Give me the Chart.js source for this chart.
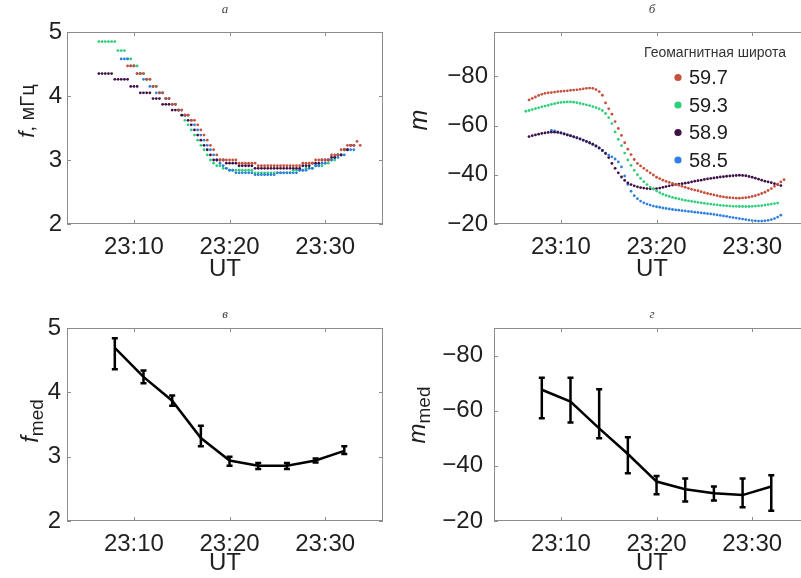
<!DOCTYPE html>
<html>
<head>
<meta charset="utf-8">
<script src="https://cdn.jsdelivr.net/npm/chart.js@4/dist/chart.umd.min.js"></script>
<style>
  html, body { margin: 0; padding: 0; background: #fff; overflow: hidden; }
  body { width: 801px; height: 578px; position: relative; }
  canvas { position: absolute; }
</style>
</head>
<body>
<canvas id="panelA" width="400" height="289" style="left:0;top:0;width:400px;height:289px"></canvas>
<canvas id="panelB" width="420" height="289" style="left:400px;top:0;width:420px;height:289px"></canvas>
<canvas id="panelC" width="400" height="289" style="left:0;top:289px;width:400px;height:289px"></canvas>
<canvas id="panelD" width="420" height="289" style="left:400px;top:289px;width:420px;height:289px"></canvas>
<script>
// время отсчётов, секунды после 23:00
const stepTime = [
  380, 400, 420, 440, 460, 480, 500, 520, 540, 560,
  580, 600, 620, 640, 660, 680, 700, 720, 740, 760,
  780, 800, 820, 840, 860, 880, 900, 920, 940, 960,
  980, 1000, 1020, 1040, 1060, 1080, 1100, 1120, 1140, 1160,
  1180, 1200, 1220, 1240, 1260, 1280, 1300, 1320, 1340, 1360,
  1380, 1400, 1420, 1440, 1460, 1480, 1500, 1520, 1540, 1560,
  1580, 1600, 1620, 1640, 1660, 1680, 1700, 1720, 1740, 1760,
  1780, 1800, 1820, 1840, 1860, 1880, 1900, 1920, 1940, 1960,
  1980, 2000, 2020
];

const latLabels = ['59.7', '59.3', '58.9', '58.5'];
const latColors = ['#c5503c', '#2fcf7a', '#3f0f48', '#2f7fe0'];

// а: частота f, мГц
const fRed = [
  null, null, null, null, null, null, null, null, null, 4.47,
  4.47, 4.47, 4.35, 4.35, 4.35, 4.26, 4.26, 4.15, 4.15, 4.05,
  4.05, 3.96, 3.96, 3.87, 3.87, 3.78, 3.78, 3.70, 3.70, 3.62,
  3.62, 3.55, 3.47, 3.39, 3.31, 3.23, 3.16, 3.08, 3.00, 3.00,
  3.00, 3.00, 3.00, 3.00, 2.95, 2.95, 2.95, 2.95, 2.95, 2.95,
  2.91, 2.91, 2.91, 2.91, 2.91, 2.91, 2.91, 2.91, 2.91, 2.91,
  2.91, 2.91, 2.91, 2.91, 2.95, 2.95, 2.95, 2.95, 3.00, 3.00,
  3.00, 3.00, 3.00, 3.08, 3.08, 3.08, 3.16, 3.16, 3.23, 3.23,
  3.23, 3.29, 3.23
];
const fGreen = [
  4.85, 4.85, 4.85, 4.85, 4.85, 4.85, 4.71, 4.71, 4.71, 4.58,
  4.58, 4.47, 4.47, 4.35, 4.35, 4.26, 4.26, 4.15, 4.15, 4.05,
  4.05, 3.96, 3.96, 3.87, 3.87, 3.78, 3.70, 3.62, 3.55, 3.47,
  3.39, 3.31, 3.23, 3.16, 3.08, 3.00, 2.95, 2.91, 2.91, 2.87,
  2.87, 2.84, 2.84, 2.84, 2.84, 2.84, 2.84, 2.84, 2.84, 2.80,
  2.80, 2.80, 2.80, 2.80, 2.80, 2.80, 2.80, 2.80, 2.80, 2.80,
  2.80, 2.84, 2.84, 2.84, 2.84, 2.87, 2.87, 2.87, 2.91, 2.91,
  2.91, 2.95, 2.95, 3.00, 3.00, 3.08, 3.08, 3.16, null, null,
  null, null, null
];
const fPurple = [
  4.35, 4.35, 4.35, 4.35, 4.35, 4.26, 4.26, 4.26, 4.26, 4.26,
  4.15, 4.15, 4.15, 4.05, 4.05, 4.05, 4.05, 3.96, 3.96, 3.96,
  3.87, 3.87, 3.87, 3.78, 3.78, 3.78, 3.70, 3.70, 3.62, 3.55,
  3.47, 3.39, 3.31, 3.23, 3.16, 3.08, 3.00, 3.00, 3.00, 3.00,
  2.95, 2.95, 2.95, 2.95, 2.91, 2.91, 2.91, 2.91, 2.91, 2.87,
  2.87, 2.87, 2.87, 2.87, 2.87, 2.87, 2.87, 2.87, 2.87, 2.87,
  2.87, 2.87, 2.87, 2.87, 2.91, 2.91, 2.91, 2.95, 2.95, 2.95,
  3.00, 3.00, 3.00, 3.04, 3.04, 3.08, 3.08, 3.16, 3.16, 3.23,
  3.23, null, null
];
const fBlue = [
  null, null, null, null, null, null, null, 4.58, 4.58, 4.58,
  4.47, 4.47, 4.35, 4.35, 4.26, 4.26, 4.15, 4.15, 4.05, 4.05,
  4.05, 3.96, 3.96, 3.87, 3.87, 3.78, 3.78, 3.70, 3.70, 3.62,
  3.55, 3.47, 3.39, 3.31, 3.23, 3.16, 3.08, 3.00, 2.95, 2.91,
  2.87, 2.84, 2.84, 2.80, 2.80, 2.80, 2.80, 2.80, 2.80, 2.77,
  2.77, 2.77, 2.77, 2.77, 2.77, 2.77, 2.80, 2.80, 2.80, 2.80,
  2.80, 2.80, 2.80, 2.84, 2.84, 2.84, 2.87, 2.87, 2.91, 2.91,
  2.95, 2.95, 3.00, 3.00, 3.04, 3.04, 3.08, 3.08, 3.16, 3.16,
  3.16, null, null
];

// б: m
const mRed = [
  null, -70.4, -71.0, -71.6, -72.2, -72.7, -73.1, -73.3, -73.4, -73.6,
  -73.8, -73.9, -74.0, -74.1, -74.3, -74.4, -74.5, -74.7, -74.9, -75.1,
  -75.2, -75.1, -74.6, -73.8, -72.3, -69.2, -66.8, -64.6, -61.6, -58.8,
  -56.0, -53.0, -50.4, -48.2, -46.2, -44.6, -43.6, -42.6, -41.7, -40.8,
  -39.9, -39.0, -38.4, -37.8, -37.3, -36.9, -36.5, -36.1, -35.7, -35.3,
  -34.9, -34.5, -34.1, -33.8, -33.5, -33.1, -32.7, -32.4, -32.1, -31.8,
  -31.5, -31.2, -31.0, -30.8, -30.7, -30.6, -30.5, -30.5, -30.6, -30.7,
  -30.9, -31.2, -31.5, -31.9, -32.4, -32.9, -33.6, -34.4, -35.3, -36.2,
  -37.1, -38.0, null
];
const mGreen = [
  -65.8, -66.1, -66.5, -66.9, -67.2, -67.6, -67.9, -68.2, -68.6, -68.9,
  -69.2, -69.4, -69.5, -69.6, -69.6, -69.5, -69.3, -69.0, -68.7, -68.4,
  -68.1, -67.7, -67.3, -66.8, -66.1, -64.9, -63.2, -60.8, -57.4, -54.4,
  -51.8, -48.8, -46.0, -43.8, -41.8, -40.0, -38.5, -37.2, -36.0, -35.0,
  -34.2, -33.4, -32.7, -32.1, -31.6, -31.2, -30.8, -30.5, -30.2, -29.9,
  -29.6, -29.4, -29.2, -29.0, -28.8, -28.6, -28.4, -28.2, -28.1, -27.9,
  -27.8, -27.6, -27.5, -27.4, -27.3, -27.2, -27.2, -27.1, -27.1, -27.1,
  -27.1, -27.2, -27.3, -27.4, -27.5, -27.7, -27.9, -28.1, -28.3, -28.5,
  null, null, null
];
const mPurple = [
  null, -55.5, -55.9, -56.2, -56.5, -56.8, -57.0, -57.2, -57.3, -57.3,
  -57.2, -57.0, -56.6, -56.2, -55.9, -55.5, -55.1, -54.6, -54.1, -53.6,
  -53.0, -52.4, -51.7, -50.9, -49.9, -48.6, -47.0, -44.6, -42.6, -40.8,
  -39.1, -37.7, -36.7, -36.0, -35.5, -35.1, -34.8, -34.6, -34.4, -34.3,
  -34.3, -34.4, -34.6, -34.9, -35.2, -35.5, -35.8, -36.0, -36.2, -36.4,
  -36.6, -36.8, -37.1, -37.4, -37.6, -37.8, -38.1, -38.3, -38.5, -38.7,
  -38.9, -39.1, -39.2, -39.4, -39.5, -39.6, -39.7, -39.8, -39.7, -39.6,
  -39.3, -39.0, -38.6, -38.2, -37.8, -37.4, -37.1, -36.8, -36.4, -36.0,
  -35.6, null, null
];
const mBlue = [
  null, null, null, null, null, null, null, null, -58.0, -57.8,
  -57.4, -57.0, -56.6, -56.2, -55.8, -55.3, -54.9, -54.5, -54.0, -53.4,
  -52.9, -52.4, -51.6, -50.8, -49.8, -48.8, -48.0, -47.3, -46.4, -45.2,
  -43.2, -39.5, -36.0, -33.3, -31.5, -30.3, -29.3, -28.6, -28.1, -27.7,
  -27.3, -27.0, -26.8, -26.5, -26.3, -26.1, -25.9, -25.7, -25.6, -25.4,
  -25.3, -25.1, -25.0, -24.8, -24.7, -24.5, -24.4, -24.2, -24.1, -23.9,
  -23.7, -23.5, -23.3, -23.1, -22.8, -22.6, -22.4, -22.2, -22.0, -21.8,
  -21.6, -21.4, -21.3, -21.2, -21.2, -21.3, -21.5, -21.8, -22.2, -22.8,
  -23.6, null, null
];

// в, г: медианы с разбросом
const medTime = [480, 660, 840, 1020, 1200, 1380, 1560, 1740, 1920];
const fMed  = [4.69, 4.24, 3.87, 3.29, 2.94, 2.86, 2.86, 2.94, 3.09];
const fLow  = [4.36, 4.14, 3.79, 3.16, 2.86, 2.81, 2.81, 2.91, 3.04];
const fHigh = [4.84, 4.34, 3.95, 3.48, 3.00, 2.90, 2.90, 2.97, 3.16];
const mMed  = [-67.6, -63.3, -53.6, -44.3, -34.3, -31.5, -30.1, -29.4, -32.5];
const mLow  = [-57.3, -55.7, -50.0, -37.3, -29.7, -27.1, -27.4, -25.0, -23.7];
const mHigh = [-72.0, -72.0, -67.8, -50.4, -36.3, -35.4, -32.5, -35.4, -36.6];

const timeTicks = [600, 1200, 1800];
const fTicks = [2, 3, 4, 5];
const mTicks = [-80, -60, -40, -20];

const FONT = '"Liberation Sans", Arial, sans-serif';
Chart.defaults.font.family = FONT;
Chart.defaults.color = '#1f1f1f';

function fixTicks(values) {
  return s => { s.ticks = values.map(v => ({ value: v })); };
}

function toPoints(times, values) {
  return times.map((t, i) => values[i] === null ? null : { x: t, y: values[i] }).filter(p => p);
}

function dotSet(label, color, values) {
  return {
    label: label,
    data: toPoints(stepTime, values),
    backgroundColor: color,
    borderWidth: 0,
    pointRadius: 1.4,
    showLine: false
  };
}

// рамка, засечки, подписи осей, легенда, усы ошибок
const decor = {
  id: 'decor',
  afterDatasetsDraw(chart, args, o) {
    if (!o.err) return;
    const { ctx, scales: { x, y } } = chart;
    ctx.save();
    ctx.strokeStyle = '#000';
    ctx.lineWidth = 2.5;
    ctx.beginPath();
    o.err.t.forEach((t, i) => {
      const px = x.getPixelForValue(t);
      const y1 = y.getPixelForValue(o.err.lo[i]);
      const y2 = y.getPixelForValue(o.err.hi[i]);
      ctx.moveTo(px, y1); ctx.lineTo(px, y2);
      ctx.moveTo(px - 3, y1); ctx.lineTo(px + 3, y1);
      ctx.moveTo(px - 3, y2); ctx.lineTo(px + 3, y2);
    });
    ctx.stroke();
    ctx.restore();
  },
  afterDraw(chart, args, o) {
    const { ctx, chartArea: a, scales: { x, y } } = chart;
    ctx.save();
    ctx.strokeStyle = '#8c8c8c';
    ctx.lineWidth = 1;
    ctx.strokeRect(a.left + 0.5, a.top + 0.5, a.right - a.left - 1, a.bottom - a.top - 1);
    ctx.beginPath();
    x.ticks.forEach(t => {
      const px = Math.round(x.getPixelForValue(t.value)) + 0.5;
      ctx.moveTo(px, a.bottom); ctx.lineTo(px, a.bottom - 4);
      ctx.moveTo(px, a.top); ctx.lineTo(px, a.top + 4);
    });
    y.ticks.forEach(t => {
      const py = Math.round(y.getPixelForValue(t.value)) + 0.5;
      ctx.moveTo(a.left, py); ctx.lineTo(a.left + 4, py);
      ctx.moveTo(a.right, py); ctx.lineTo(a.right - 4, py);
    });
    ctx.stroke();

    // буква панели
    ctx.fillStyle = '#444';
    ctx.font = 'italic 13px "Liberation Serif", serif';
    ctx.textAlign = 'center';
    ctx.textBaseline = 'middle';
    ctx.fillText(o.letter, (a.left + 316 / 2), o.letterY);

    // подпись оси y (повёрнутая, с индексом)
    ctx.save();
    ctx.translate(o.yTitle.x, o.yTitle.y);
    ctx.rotate(-Math.PI / 2);
    ctx.textAlign = 'left';
    ctx.textBaseline = 'alphabetic';
    ctx.fillStyle = '#1f1f1f';
    let total = 0;
    o.yTitle.parts.forEach(p => { ctx.font = p.font; total += ctx.measureText(p.text).width; });
    let cx = -total / 2;
    o.yTitle.parts.forEach(p => {
      ctx.font = p.font;
      ctx.fillText(p.text, cx, p.dy || 0);
      cx += ctx.measureText(p.text).width;
    });
    ctx.restore();

    if (o.legend) {
      ctx.fillStyle = '#333';
      ctx.font = '14px ' + FONT;
      ctx.textAlign = 'left';
      ctx.textBaseline = 'middle';
      ctx.fillText('Геомагнитная широта', o.legend.x, o.legend.y);
      chart.data.datasets.forEach((ds, i) => {
        const ly = o.legend.y + 24.5 + i * 27.5;
        ctx.fillStyle = ds.backgroundColor;
        ctx.beginPath();
        ctx.arc(o.legend.x + 34, ly, 3.6, 0, Math.PI * 2);
        ctx.fill();
        ctx.fillStyle = '#1f1f1f';
        ctx.font = '20px ' + FONT;
        ctx.fillText(ds.label, o.legend.x + 45, ly + 1);
      });
    }
    ctx.restore();
  }
};

function makePanel(id, cfg) {
  return new Chart(document.getElementById(id), {
    type: 'scatter',
    data: { datasets: cfg.datasets },
    options: {
      responsive: false,
      animation: false,
      events: [],
      layout: { padding: cfg.padding },
      plugins: { legend: { display: false }, tooltip: { enabled: false }, decor: cfg.decor },
      scales: {
        x: {
          type: 'linear', min: 180, max: 2163,
          afterBuildTicks: fixTicks(timeTicks),
          afterFit: s => { s.height = cfg.xHeight; },
          grid: { display: false, drawTicks: false },
          border: { display: false },
          ticks: { font: { size: 24 }, padding: 9, maxRotation: 0, callback: v => '23:' + v / 60 },
          title: { display: true, text: 'UT', font: { size: 24 }, padding: cfg.titlePad }
        },
        y: {
          type: 'linear', min: cfg.yMin, max: cfg.yMax, reverse: !!cfg.reverse,
          afterBuildTicks: fixTicks(cfg.yTicks),
          afterFit: s => { s.width = cfg.yWidth; },
          grid: { display: false, drawTicks: false },
          border: { display: false },
          ticks: { font: { size: 24 }, padding: cfg.yPad, callback: cfg.yLabel }
        }
      }
    },
    plugins: [decor]
  });
}

const minusLabel = v => '\u2212' + Math.abs(v);

makePanel('panelA', {
  datasets: [
    dotSet(latLabels[0], latColors[0], fRed),
    dotSet(latLabels[2], latColors[2], fPurple),
    dotSet(latLabels[3], latColors[3], fBlue),
    dotSet(latLabels[1], latColors[1], fGreen)
  ],
  padding: { top: 32, right: 17, left: 0, bottom: 0 },
  xHeight: 65, titlePad: 5, yWidth: 67, yPad: 5,
  yMin: 2, yMax: 5, yTicks: fTicks,
  decor: {
    letter: 'а', letterY: 10,
    yTitle: { x: 34, y: 111, parts: [
      { text: 'f', font: 'italic 22px ' + FONT },
      { text: ', мГц', font: '20px ' + FONT }
    ] }
  }
});

makePanel('panelB', {
  datasets: [
    dotSet(latLabels[0], latColors[0], mRed),
    dotSet(latLabels[1], latColors[1], mGreen),
    dotSet(latLabels[2], latColors[2], mPurple),
    dotSet(latLabels[3], latColors[3], mBlue)
  ],
  padding: { top: 32, right: 10, left: 0, bottom: 0 },
  xHeight: 65, titlePad: 5, yWidth: 94, yPad: 6,
  yMin: -98, yMax: -20, reverse: true, yTicks: mTicks, yLabel: minusLabel,
  decor: {
    letter: 'б', letterY: 10,
    yTitle: { x: 27, y: 120, parts: [{ text: 'm', font: 'italic 25px ' + FONT }] },
    legend: { x: 244, y: 53 }
  }
});

makePanel('panelC', {
  datasets: [{
    data: toPoints(medTime, fMed),
    showLine: true, borderColor: '#000', borderWidth: 2.5, pointRadius: 0
  }],
  padding: { top: 39, right: 17, left: 0, bottom: 0 },
  xHeight: 57, titlePad: 0, yWidth: 67, yPad: 6,
  yMin: 2, yMax: 5, yTicks: fTicks,
  decor: {
    letter: 'в', letterY: 26,
    err: { t: medTime, lo: fLow, hi: fHigh },
    yTitle: { x: 38, y: 132, parts: [
      { text: 'f', font: 'italic 24px ' + FONT },
      { text: 'med', font: '19px ' + FONT, dy: 5 }
    ] }
  }
});

makePanel('panelD', {
  datasets: [{
    data: toPoints(medTime, mMed),
    showLine: true, borderColor: '#000', borderWidth: 2.5, pointRadius: 0
  }],
  padding: { top: 39, right: 10, left: 0, bottom: 0 },
  xHeight: 57, titlePad: 0, yWidth: 94, yPad: 11,
  yMin: -90, yMax: -20, reverse: true, yTicks: mTicks, yLabel: minusLabel,
  decor: {
    letter: 'г', letterY: 26,
    err: { t: medTime, lo: mLow, hi: mHigh },
    yTitle: { x: 25, y: 126, parts: [
      { text: 'm', font: 'italic 24px ' + FONT },
      { text: 'med', font: '19px ' + FONT, dy: 5 }
    ] }
  }
});
</script>
</body>
</html>
